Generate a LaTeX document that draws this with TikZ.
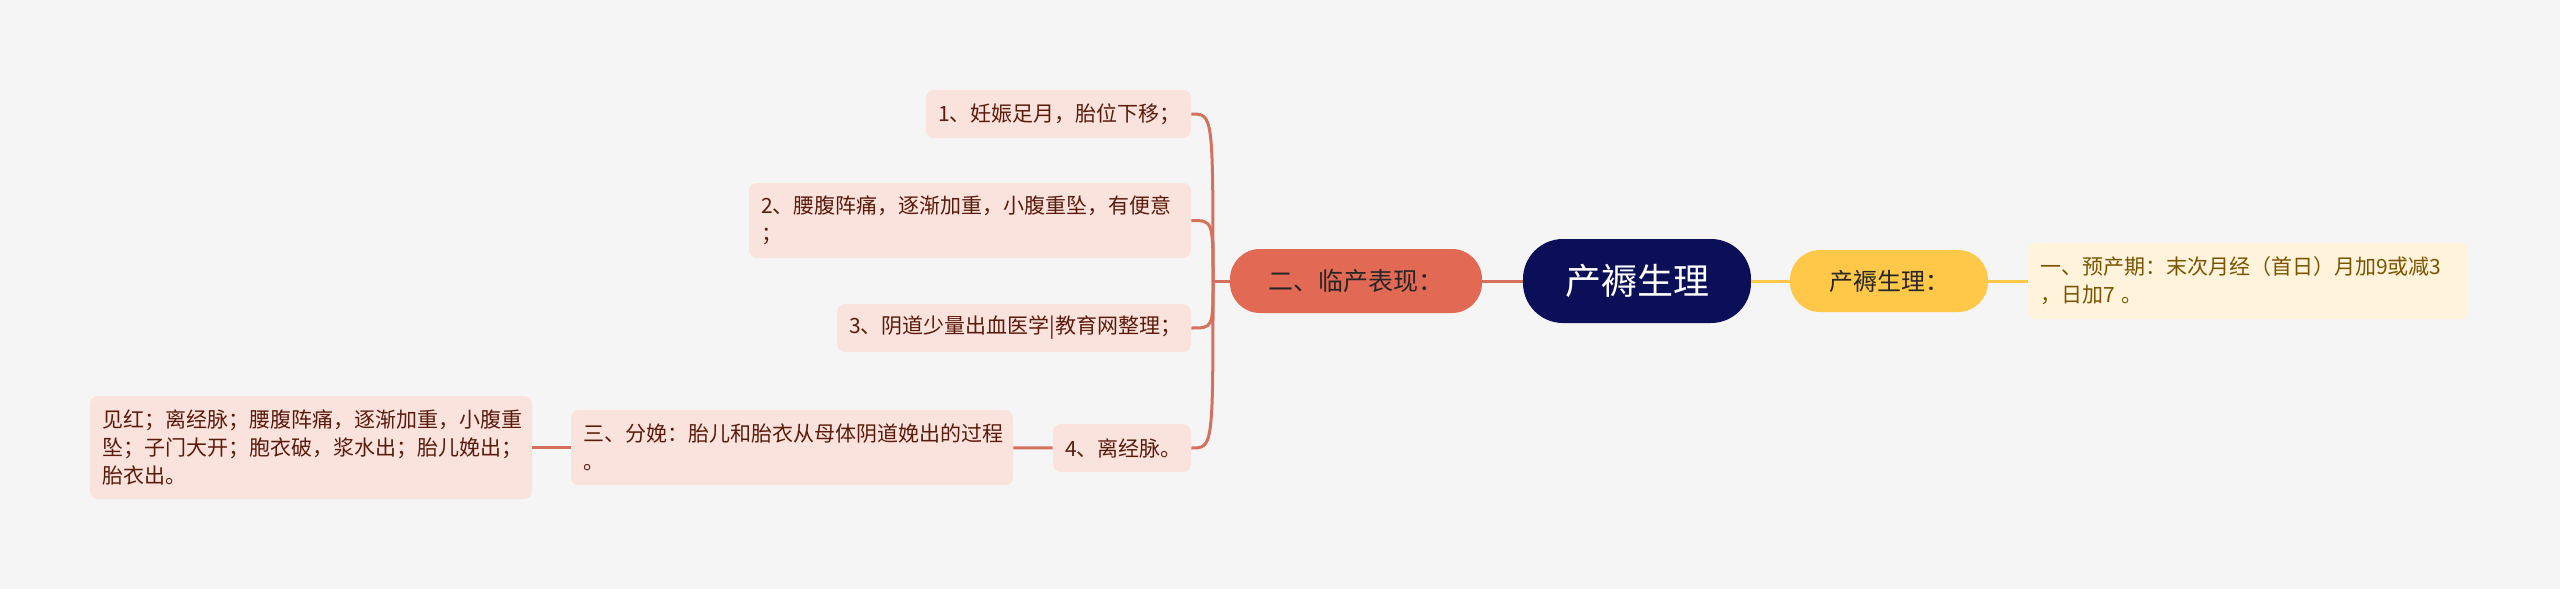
\documentclass[tikz,border=0pt]{standalone}
\usepackage{fontspec}
\setmainfont{Noto Sans CJK SC}
\definecolor{bgcol}{HTML}{F5F5F5}
\definecolor{rootcol}{HTML}{0A0F58}
\definecolor{redcol}{HTML}{E26A55}
\definecolor{redline}{HTML}{D4705C}
\definecolor{pinkcol}{HTML}{FBE3DD}
\definecolor{pinktext}{HTML}{5A1B0C}
\definecolor{yelcol}{HTML}{FFC848}
\definecolor{lightyel}{HTML}{FFF4DB}
\definecolor{yeltext}{HTML}{7A5400}
\tikzset{
  rootbox/.style={fill=rootcol, text=white, rounded corners=20pt, minimum width=114pt,
    minimum height=42pt, inner sep=0pt, font=\fontsize{18}{22}\selectfont},
  branchred/.style={fill=redcol, text=black!85, rounded corners=15pt, minimum width=126pt,
    minimum height=32pt, inner sep=0pt, font=\fontsize{12.5}{15}\selectfont},
  branchyel/.style={fill=yelcol, text=black!85, rounded corners=15pt, minimum width=99pt,
    minimum height=31pt, inner sep=0pt, font=\fontsize{12}{15}\selectfont},
  leafred/.style={fill=pinkcol, text=pinktext, rounded corners=4pt, inner xsep=6pt,
    inner ysep=0pt, align=left, font=\fontsize{10.5}{14}\selectfont},
  leafyel/.style={leafred, fill=lightyel, text=yeltext},
  linkred/.style={draw=redline, line width=1.5pt},
  linkyel/.style={draw=yelcol, line width=1.5pt}
}
\begin{document}
\begin{tikzpicture}[x=0.5pt,y=-0.5pt]
\fill[bgcol] (0,0) rectangle (2560,589);
\useasboundingbox (0,0) rectangle (2560,589);
% centre and the right side
\node[rootbox] (root) at (1637,281) {产褥生理};
\node[branchyel] (yq) at (1889,281) {产褥生理：};
\node[leafyel, text width=208pt, minimum height=38pt] (ycq) at (2248,281)
  {一、预产期：末次月经（首日）月加9或减3\\，日加7 。};
% left side
\node[branchred] (lc) at (1356,281) {二、临产表现：};
\node[leafred, text width=120.5pt, minimum height=24pt] (lk1) at (1058.5,114) {1、妊娠足月，胎位下移；};
\node[leafred, text width=209pt, minimum height=37.5pt] (lk2) at (970,220.5)
  {2、腰腹阵痛，逐渐加重，小腹重坠，有便意\\；};
\node[leafred, text width=165pt, minimum height=24pt] (lk3) at (1014,328) {3、阴道少量出血医学|教育网整理；};
\node[leafred, text width=57pt, minimum height=24pt] (lk4) at (1122,448) {4、离经脉。};
\node[leafred, text width=209pt, minimum height=37.5pt] (fw) at (792,447.5)
  {三、分娩：胎儿和胎衣从母体阴道娩出的过程\\。};
\node[leafred, text width=209pt, minimum height=51.5pt] (jh) at (311,447.5)
  {见红；离经脉；腰腹阵痛，逐渐加重，小腹重\\坠；子门大开；胞衣破，浆水出；胎儿娩出；\\胎衣出。};
% connectors
\coordinate (j2) at (1213,281);
\draw[linkyel] (root) -- (yq);
\draw[linkyel] (yq) -- (ycq);
\draw[linkred] (root) -- (lc);
\draw[linkred] (lc) -- (j2);
\foreach \n in {lk1,lk2,lk3,lk4}
  \draw[linkred] (\n.east) .. controls (j2 |- \n.east) .. (j2);
\draw[linkred] (lk4) -- (fw);
\draw[linkred] (fw) -- (jh);
\end{tikzpicture}
\end{document}
